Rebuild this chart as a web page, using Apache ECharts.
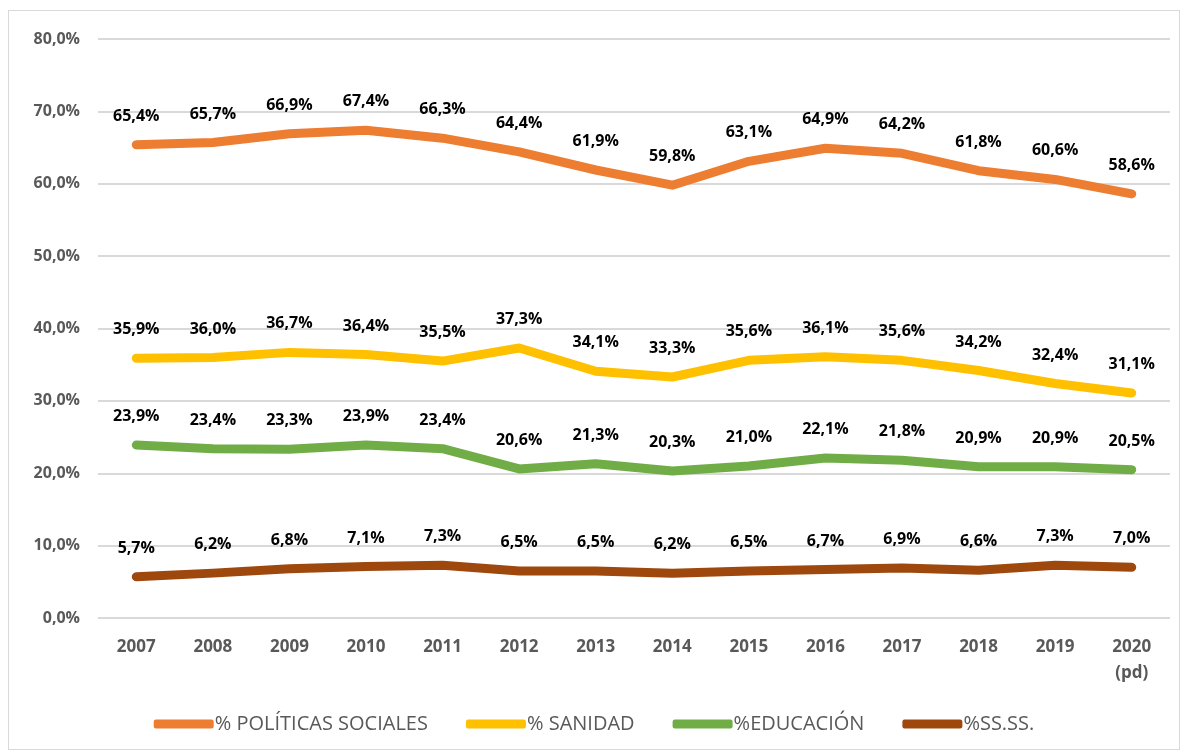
<!DOCTYPE html>
<html>
<head>
<meta charset="utf-8">
<script src="https://cdn.jsdelivr.net/npm/echarts@6/dist/echarts.min.js"></script>
<style>
  body { margin: 0; padding: 0; background: #fff; }
  #chart {
    position: absolute; left: 8px; top: 10px;
    width: 1172px; height: 740px;
    border: 1px solid #d9d9d9; box-sizing: border-box;
  }
</style>
</head>
<body>
<div id="chart"></div>
<script>
  // categorías del eje x
  const years = ["2007", "2008", "2009", "2010", "2011", "2012", "2013",
    "2014", "2015", "2016", "2017", "2018", "2019", "2020\n(pd)"];
  const politicasSociales = [65.4, 65.7, 66.9, 67.4, 66.3, 64.4, 61.9, 59.8, 63.1, 64.9, 64.2, 61.8, 60.6, 58.6];
  const sanidad = [35.9, 36.0, 36.7, 36.4, 35.5, 37.3, 34.1, 33.3, 35.6, 36.1, 35.6, 34.2, 32.4, 31.1];
  const educacion = [23.9, 23.4, 23.3, 23.9, 23.4, 20.6, 21.3, 20.3, 21.0, 22.1, 21.8, 20.9, 20.9, 20.5];
  const ssss = [5.7, 6.2, 6.8, 7.1, 7.3, 6.5, 6.5, 6.2, 6.5, 6.7, 6.9, 6.6, 7.3, 7.0];
  const yTicks = [0, 10, 20, 30, 40, 50, 60, 70, 80];

  const fmt = v => v.toFixed(1).replace(".", ",") + "%";

  function makeSeries(name, data, color) {
    return {
      name: name,
      type: "line",
      data: data,
      symbol: "circle",
      symbolSize: 1,
      lineStyle: { width: 9, color: color, cap: "round", join: "round" },
      itemStyle: { color: color },
      label: {
        show: true,
        position: "top",
        distance: 20,
        color: "#000",
        fontWeight: "bold",
        fontSize: 16,
        fontFamily: "Open Sans",
        formatter: p => fmt(p.value)
      },
      emphasis: { disabled: true },
      animation: false
    };
  }

  const chart = echarts.init(document.getElementById("chart"));
  chart.setOption({
    animation: false,
    grid: { left: 89, right: 9, top: 28, bottom: 131 },
    legend: {
      bottom: 10,
      left: "center",
      itemWidth: 60,
      itemHeight: 9,
      itemGap: 38,
      icon: "roundRect",
      textStyle: { fontSize: 20, color: "#595959", fontFamily: "Open Sans", padding: [0, 0, 0, -4] },
      data: ["% POLÍTICAS SOCIALES", "% SANIDAD", "%EDUCACIÓN", "%SS.SS."]
    },
    xAxis: {
      type: "category",
      data: years,
      boundaryGap: true,
      axisLine: { show: false },
      axisTick: { show: false },
      axisLabel: {
        color: "#595959",
        fontWeight: "bold",
        fontSize: 17,
        fontFamily: "Open Sans",
        margin: 16,
        lineHeight: 26
      }
    },
    yAxis: {
      type: "value",
      min: yTicks[0],
      max: yTicks[yTicks.length - 1],
      interval: 10,
      axisLine: { show: false },
      axisTick: { show: false },
      splitLine: { lineStyle: { color: "#d9d9d9", width: 2 } },
      axisLabel: {
        color: "#595959",
        fontWeight: "bold",
        fontSize: 16,
        fontFamily: "Open Sans",
        margin: 18,
        formatter: v => fmt(v)
      }
    },
    series: [
      makeSeries("% POLÍTICAS SOCIALES", politicasSociales, "#ED7D31"),
      makeSeries("% SANIDAD", sanidad, "#FFC000"),
      makeSeries("%EDUCACIÓN", educacion, "#70AD47"),
      makeSeries("%SS.SS.", ssss, "#9E480E")
    ]
  });
</script>
</body>
</html>
